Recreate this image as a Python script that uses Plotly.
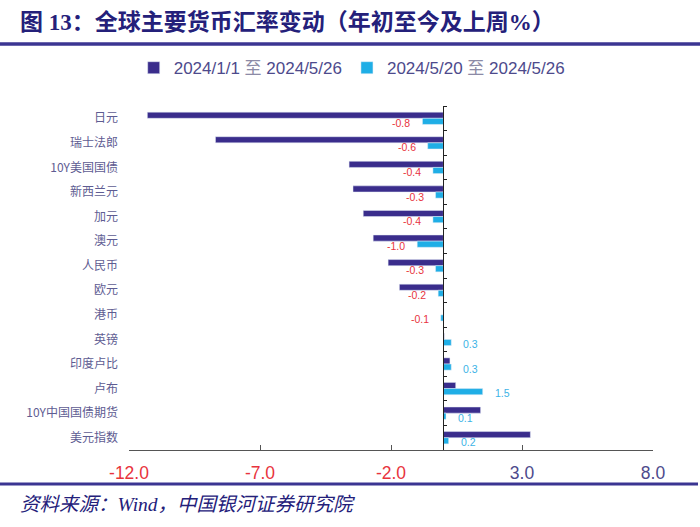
import plotly.graph_objects as go

categories = ["日元", "瑞士法郎", "10Y美国国债", "新西兰元", "加元", "澳元", "人民币",
              "欧元", "港币", "英镑", "印度卢比", "卢布", "10Y中国国债期货", "美元指数"]
ytd_values = [-11.3, -8.7, -3.6, -3.45, -3.06, -2.68, -2.11, -1.68, 0.02, 0.03, 0.25, 0.47, 1.42, 3.32]
week_values = [-0.8, -0.6, -0.4, -0.3, -0.4, -1.0, -0.3, -0.2, -0.1, 0.3, 0.3, 1.5, 0.1, 0.2]
series_names = ["2024/1/1 <span style='color:#8c8aa6'>至</span> 2024/5/26",
                "2024/5/20 <span style='color:#8c8aa6'>至</span> 2024/5/26"]
x_ticks = [-12, -7, -2, 3, 8]
x_tick_labels = ["-12.0", "-7.0", "-2.0", "3.0", "8.0"]

DARK = "#3a2d8c"
LIGHT = "#1faee6"
NEG_LABEL = "#e8333d"
POS_LABEL = "#3cb3e6"
AXIS_TEXT = "#4d4a8c"
NAVY = "#24207a"

fig = go.Figure()
fig.add_trace(go.Bar(y=categories, x=ytd_values, orientation="h", name=series_names[0],
                     marker_color=DARK, yaxis="y"))
fig.add_trace(go.Bar(y=categories, x=week_values, orientation="h", name=series_names[1],
                     marker_color=LIGHT, yaxis="y"))
# invisible helper trace carrying the zero-crossing category axis
fig.add_trace(go.Scatter(y=categories, x=[0] * len(categories), mode="markers",
                         marker=dict(opacity=0), showlegend=False, hoverinfo="skip",
                         yaxis="y2"))

# data labels for the weekly series
for cat, v in zip(categories, week_values):
    neg = v < 0
    fig.add_annotation(x=v, y=cat, xref="x", yref="y", text=f"{v:.1f}", showarrow=False,
                       xanchor="right" if neg else "left", yanchor="middle",
                       xshift=-10 if neg else 10, yshift=-4.5,
                       font=dict(family="Arial", size=10.5,
                                 color=NEG_LABEL if neg else POS_LABEL))

tick_text = [f"<span style='color:{NEG_LABEL if t < 0 else AXIS_TEXT}'>{s}</span>"
             for t, s in zip(x_ticks, x_tick_labels)]

n = len(categories)
fig.update_layout(
    width=700, height=527,
    margin=dict(l=129, r=47, t=106, b=77),
    paper_bgcolor="white", plot_bgcolor="white",
    barmode="group", bargap=0.5, bargroupgap=0,
    showlegend=True,
    legend=dict(orientation="h", x=0.425, y=1.11, xanchor="center", yanchor="middle",
                font=dict(family="Arial, Noto Sans CJK SC", size=17, color=AXIS_TEXT),
                itemwidth=30, bgcolor="rgba(0,0,0,0)", traceorder="normal"),
    title=dict(text="<b>图 13：全球主要货币汇率变动（年初至今及上周%）</b>",
               xref="container", yref="container", x=20 / 700, y=1 - 22 / 527,
               xanchor="left", yanchor="middle",
               font=dict(family="Times New Roman, Noto Sans CJK SC", size=23, color=NAVY)),
    xaxis=dict(range=[-12, 8], domain=[0, 1], tickvals=x_ticks, ticktext=tick_text,
               showgrid=False, zeroline=False, showline=True, linecolor="#555555",
               linewidth=1, ticks="inside", ticklen=5, tickcolor="#555555",
               tickfont=dict(family="Arial", size=17.5), ticklabelstandoff=7,
               mirror=False),
    yaxis=dict(type="category", range=[n - 0.5, -0.5], showgrid=False, zeroline=False,
               showline=False, ticks="", ticklabelstandoff=10,
               tickfont=dict(family="Noto Sans CJK SC, Arial", size=12, color="#5e5c92")),
    yaxis2=dict(type="category", matches="y", overlaying="y", anchor="free",
                position=12 / 20, side="right", showticklabels=False, showgrid=False,
                zeroline=False, showline=True, linecolor="#222222", linewidth=1,
                ticks="outside", ticklen=3, tickcolor="#222222", tickson="boundaries"),
)

# header and footer rules
fig.add_shape(type="line", xref="paper", yref="paper", x0=-129 / 524, x1=571 / 524,
              y0=(450 - 44) / 344, y1=(450 - 44) / 344, line=dict(color="#3b3592", width=3.5))
fig.add_shape(type="line", xref="paper", yref="paper", x0=-129 / 524, x1=569 / 524,
              y0=(450 - 484) / 344, y1=(450 - 484) / 344, line=dict(color="#3b3592", width=3))

fig.add_annotation(xref="paper", yref="paper", x=(18 - 129) / 524, y=(450 - 504) / 344,
                   xanchor="left", yanchor="middle", showarrow=False,
                   text="<i>资料来源：Wind，中国银河证券研究院</i>",
                   font=dict(family="Times New Roman, Noto Sans CJK SC", size=19.5, color=NAVY))

fig.write_html("out.html")
